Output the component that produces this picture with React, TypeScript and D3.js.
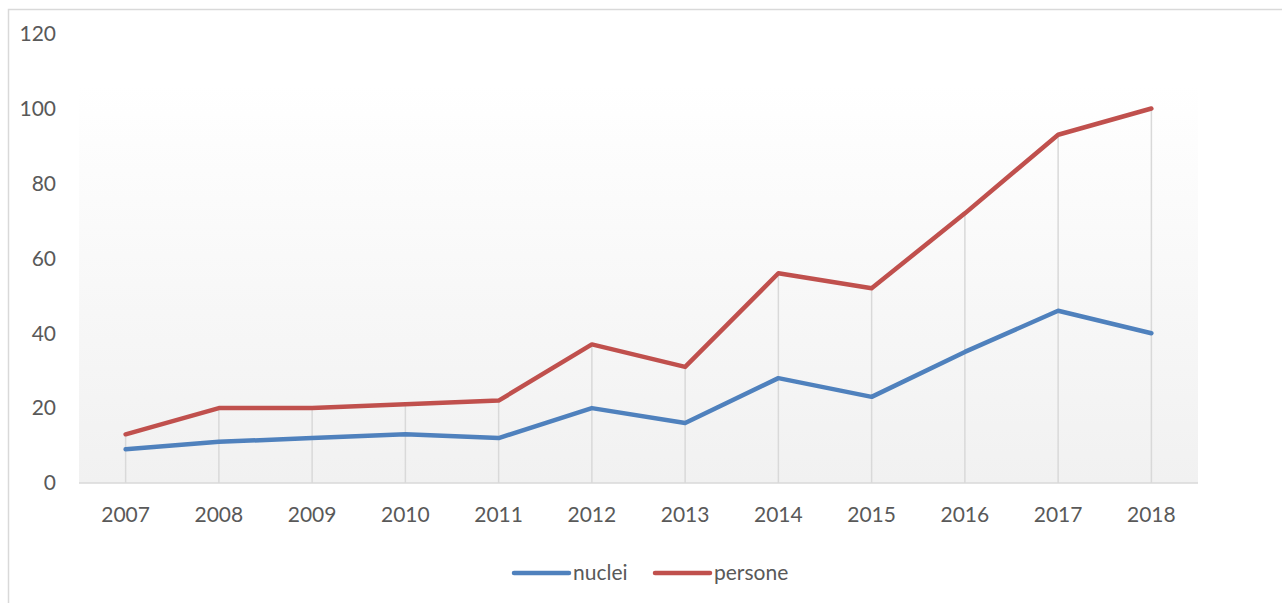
import React from "react";
import { scaleBand, scaleLinear, line, max } from "d3";

const years = ["2007", "2008", "2009", "2010", "2011", "2012", "2013", "2014", "2015", "2016", "2017", "2018"];
const nuclei = [9, 11, 12, 13, 12, 20, 16, 28, 23, 35, 46, 40];
const persone = [13, 20, 20, 21, 22, 37, 31, 56, 52, 72, 93, 100];
const yTicks = [0, 20, 40, 60, 80, 100, 120];

const seriesNames = ["nuclei", "persone"];
const seriesColors = ["#4f81bd", "#c0504d"];

const App = () => {
  const width = 1282;
  const height = 603;
  const plot = { left: 79, right: 1198, top: 85, bottom: 483 };
  const font = "Lato, 'Open Sans', sans-serif";
  const textColor = "#595959";

  const xScale = scaleBand().domain(years).range([plot.left, plot.right]);
  const yScale = scaleLinear().domain([0, 100]).range([plot.bottom, 108.5]);
  const xc = (y: string) => (xScale(y) as number) + xScale.bandwidth() / 2;

  const series = [nuclei, persone];
  const path = line<number>()
    .x((_, i) => xc(years[i]))
    .y((d) => yScale(d));

  return (
    <svg width={width} height={height} style={{ position: "absolute", left: 0, top: 0 }}>
      <defs>
        <linearGradient id="plotBg" x1="0" y1="0" x2="0" y2="1">
          <stop offset="0" stopColor="#ffffff" />
          <stop offset="1" stopColor="#f1f1f1" />
        </linearGradient>
      </defs>
      <rect x={0} y={0} width={width} height={height} fill="#fff" />
      <rect x={8.5} y={9.5} width={1400} height={700} fill="none" stroke="#d9d9d9" strokeWidth={1.5} />
      <rect
        x={plot.left}
        y={plot.top}
        width={plot.right - plot.left}
        height={plot.bottom - plot.top}
        fill="url(#plotBg)"
      />

      {/* drop lines */}
      {years.map((y, i) => (
        <line
          key={y}
          x1={xc(y)}
          x2={xc(y)}
          y1={yScale(max([nuclei[i], persone[i]]) as number)}
          y2={plot.bottom}
          stroke="#d9d9d9"
          strokeWidth={1.5}
        />
      ))}
      <line x1={plot.left} x2={plot.right} y1={plot.bottom} y2={plot.bottom} stroke="#d9d9d9" strokeWidth={1.5} />

      {yTicks.map((t) => (
        <text
          key={t}
          x={56}
          y={yScale(t)}
          dy="0.35em"
          textAnchor="end"
          fontFamily={font}
          fontSize={21}
          fill={textColor}
        >
          {t}
        </text>
      ))}

      {years.map((y) => (
        <text
          key={y}
          x={xc(y)}
          y={515}
          dy="0.35em"
          textAnchor="middle"
          fontFamily={font}
          fontSize={21}
          fill={textColor}
        >
          {y}
        </text>
      ))}

      {series.map((s, i) => (
        <path
          key={seriesNames[i]}
          d={path(s) as string}
          fill="none"
          stroke={seriesColors[i]}
          strokeWidth={4.5}
          strokeLinejoin="round"
          strokeLinecap="round"
        />
      ))}

      {/* legend */}
      {seriesNames.map((n, i) => {
        const x0 = [514, 655][i];
        return (
          <g key={n}>
            <line x1={x0} x2={x0 + 55} y1={573} y2={573} stroke={seriesColors[i]} strokeWidth={4.5} strokeLinecap="round" />
            <text x={x0 + 59} y={573} dy="0.35em" fontFamily={font} fontSize={21} fill={textColor}>
              {n}
            </text>
          </g>
        );
      })}
    </svg>
  );
};

export default App;
